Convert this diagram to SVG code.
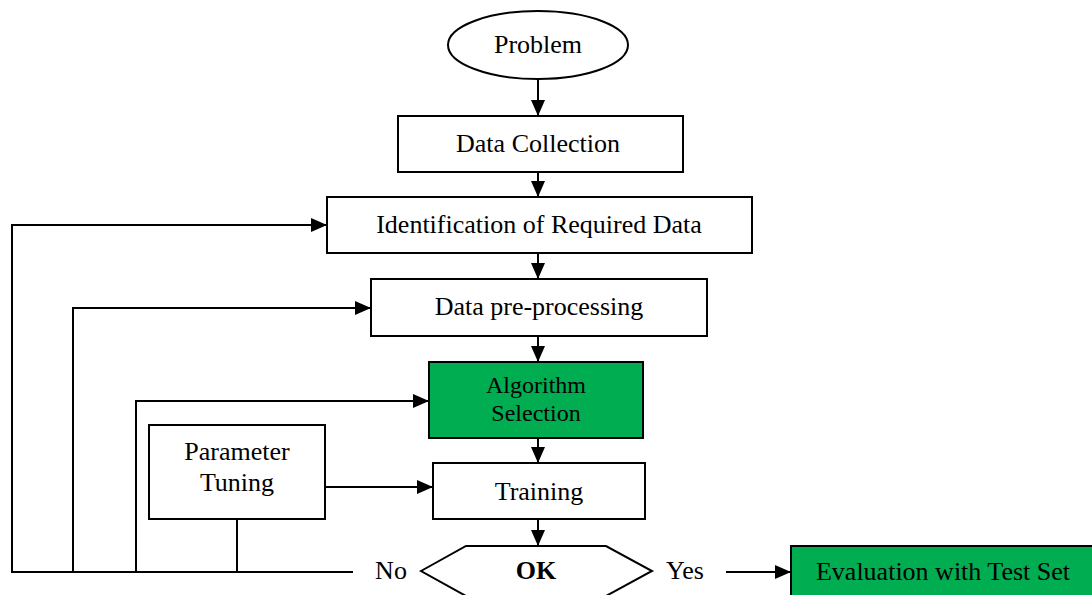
<svg xmlns="http://www.w3.org/2000/svg" width="1092" height="595" viewBox="0 0 1092 595">
<style>
.box{fill:#fff;stroke:#000;stroke-width:2}
.green{fill:#00AD50;stroke:#000;stroke-width:2}
.t{font-family:"Liberation Serif","Times New Roman",serif;font-size:26px;fill:#000;text-anchor:middle}
.s{font-size:24px}
.b{font-weight:bold}
.c{fill:none;stroke:#000;stroke-width:2}
</style>
<defs>
<marker id="arr" markerUnits="userSpaceOnUse" markerWidth="16" markerHeight="14" refX="16" refY="7" orient="auto">
<path d="M0,0 L16,7 L0,14 z" fill="#000"/>
</marker>
</defs>
<rect width="1092" height="595" fill="#fff"/>
<g id="connectors">
<path class="c" d="M538,78 V116" marker-end="url(#arr)"/>
<path class="c" d="M538,172 V197" marker-end="url(#arr)"/>
<path class="c" d="M538,253 V279" marker-end="url(#arr)"/>
<path class="c" d="M538,336 V362" marker-end="url(#arr)"/>
<path class="c" d="M538,438 V463" marker-end="url(#arr)"/>
<path class="c" d="M538,519 V546" marker-end="url(#arr)"/>
<path class="c" d="M353,572 H12 V225 H327" marker-end="url(#arr)"/>
<path class="c" d="M73,572 V308 H371" marker-end="url(#arr)"/>
<path class="c" d="M136,572 V401 H429" marker-end="url(#arr)"/>
<path class="c" d="M237,519 V572"/>
<path class="c" d="M325,487 H433" marker-end="url(#arr)"/>
<path class="c" d="M726,572 H791" marker-end="url(#arr)"/>
</g>
<g id="problem">
<ellipse class="box" cx="538" cy="45" rx="90" ry="34"/>
<text class="t" x="538" y="53">Problem</text>
</g>
<g id="data-collection">
<rect class="box" x="398" y="116" width="285" height="56"/>
<text class="t" x="538" y="152">Data Collection</text>
</g>
<g id="identification">
<rect class="box" x="327" y="197" width="425" height="56"/>
<text class="t" x="539" y="233">Identification of Required Data</text>
</g>
<g id="preprocessing">
<rect class="box" x="371" y="279" width="336" height="57"/>
<text class="t" x="539" y="315">Data pre-processing</text>
</g>
<g id="algorithm-selection">
<rect class="green" x="429" y="362" width="214" height="76"/>
<text class="t s" x="536" y="393">Algorithm</text>
<text class="t s" x="536" y="421">Selection</text>
</g>
<g id="parameter-tuning">
<rect class="box" x="149" y="425" width="176" height="94"/>
<text class="t" x="237" y="460">Parameter</text>
<text class="t" x="237" y="491">Tuning</text>
</g>
<g id="training">
<rect class="box" x="433" y="463" width="212" height="56"/>
<text class="t" x="539" y="500">Training</text>
</g>
<g id="ok">
<polygon class="box" points="421,571 466,546 606,546 652,571 606,596 466,596"/>
<text class="t b" x="536" y="579">OK</text>
<text class="t" x="391" y="579">No</text>
<text class="t" x="685" y="579">Yes</text>
</g>
<g id="evaluation">
<rect class="green" x="791" y="546" width="310" height="60"/>
<text class="t" x="943" y="580">Evaluation with Test Set</text>
</g>
</svg>
